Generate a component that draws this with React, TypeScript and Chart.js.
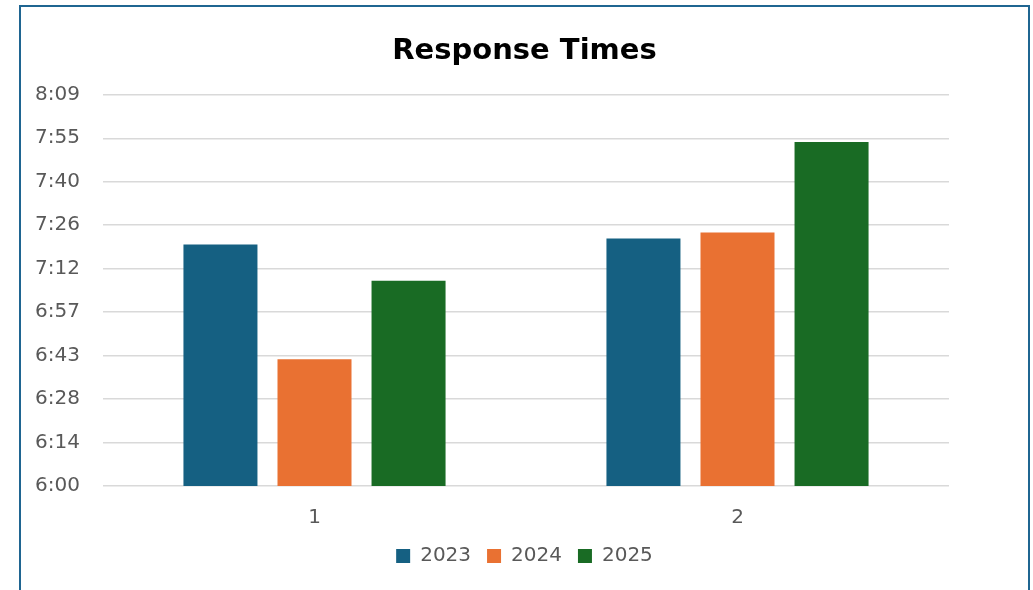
import React, { useEffect, useRef } from "react";
import { Chart, registerables } from "chart.js";

Chart.register(...registerables);

// Categories and series values (clock times, h:mm)
const CATEGORIES = ["1", "2"];
const SERIES_NAMES = ["2023", "2024", "2025"];
const SERIES_2023 = ["7:20", "7:22"];
const SERIES_2024 = ["6:42", "7:24"];
const SERIES_2025 = ["7:08", "7:54"];
const SERIES_COLORS = ["#156082", "#E97132", "#196B24"];

// Value axis, as fractions of a day (6:00 .. 8:09:36 in 0.01-day steps)
const AXIS_MIN = 0.25;
const AXIS_MAX = 0.34;
const AXIS_STEP = 0.01;
const TICK_LABELS = ["6:00", "6:14", "6:28", "6:43", "6:57", "7:12", "7:26", "7:40", "7:55", "8:09"];

const toDay = (t: string) => {
  const [h, m] = t.split(":").map(Number);
  return (h * 60 + m) / 1440;
};

const FONT = "'DejaVu Sans', sans-serif";
const TEXT_GREY = "#595959";

export default function App() {
  const canvasRef = useRef<HTMLCanvasElement | null>(null);

  useEffect(() => {
    if (!canvasRef.current) return;
    const series = [SERIES_2023, SERIES_2024, SERIES_2025];
    const chart = new Chart(canvasRef.current, {
      type: "bar",
      data: {
        labels: CATEGORIES,
        datasets: series.map((vals, i) => ({
          label: SERIES_NAMES[i],
          data: vals.map(toDay),
          backgroundColor: SERIES_COLORS[i],
          borderWidth: 0,
          yAxisID: "y",
          categoryPercentage: 0.667,
          barPercentage: 0.787,
        })),
      },
      options: {
        animation: false,
        responsive: false,
        maintainAspectRatio: false,
        layout: { padding: { left: 20, right: 4, top: 0, bottom: 14 } },
        plugins: {
          title: {
            display: true,
            text: "Response Times",
            color: "#000000",
            font: { family: FONT, size: 29, weight: "bold" },
            padding: { top: 34, bottom: 26 },
          },
          legend: {
            position: "bottom",
            labels: {
              color: TEXT_GREY,
              font: { family: FONT, size: 20 },
              boxWidth: 14,
              boxHeight: 14,
              padding: 16,
            },
          },
          tooltip: { enabled: false },
        },
        scales: {
          x: {
            afterFit: (scale: any) => {
              scale.height = 44;
            },
            grid: { display: false, drawTicks: false },
            border: { display: false },
            ticks: { color: TEXT_GREY, font: { family: FONT, size: 20 }, padding: 20 },
          },
          y: {
            position: "left",
            min: AXIS_MIN,
            max: AXIS_MAX,
            afterFit: (scale: any) => {
              scale.width = 83;
            },
            afterBuildTicks: (scale: any) => {
              scale.ticks = TICK_LABELS.map((_, i) => ({ value: AXIS_MIN + i * AXIS_STEP }));
            },
            grid: { color: "#D9D9D9", lineWidth: 1.5, drawTicks: false },
            border: { display: false },
            ticks: {
              color: TEXT_GREY,
              font: { family: FONT, size: 20 },
              padding: 23,
              callback: (_v: any, i: number) => TICK_LABELS[i],
            },
          },
          // empty right-hand gutter so the plot sits left of the frame centre
          gutter: {
            type: "linear",
            position: "right",
            afterFit: (scale: any) => {
              scale.width = 80;
            },
            grid: { display: false, drawTicks: false },
            border: { display: false },
            ticks: { display: false },
          },
        },
      },
    });
    return () => chart.destroy();
  }, []);

  return (
    <div
      style={{
        position: "fixed",
        left: 0,
        top: 0,
        width: 1033,
        height: 590,
        overflow: "hidden",
        background: "#ffffff",
      }}
    >
      <div
        style={{
          position: "absolute",
          left: 19,
          top: 5,
          width: 1007,
          height: 640,
          border: "2px solid #1F6591",
        }}
      />
      <canvas
        ref={canvasRef}
        width={1033}
        height={590}
        style={{ position: "absolute", left: 0, top: 0, width: 1033, height: 590 }}
      />
    </div>
  );
}
